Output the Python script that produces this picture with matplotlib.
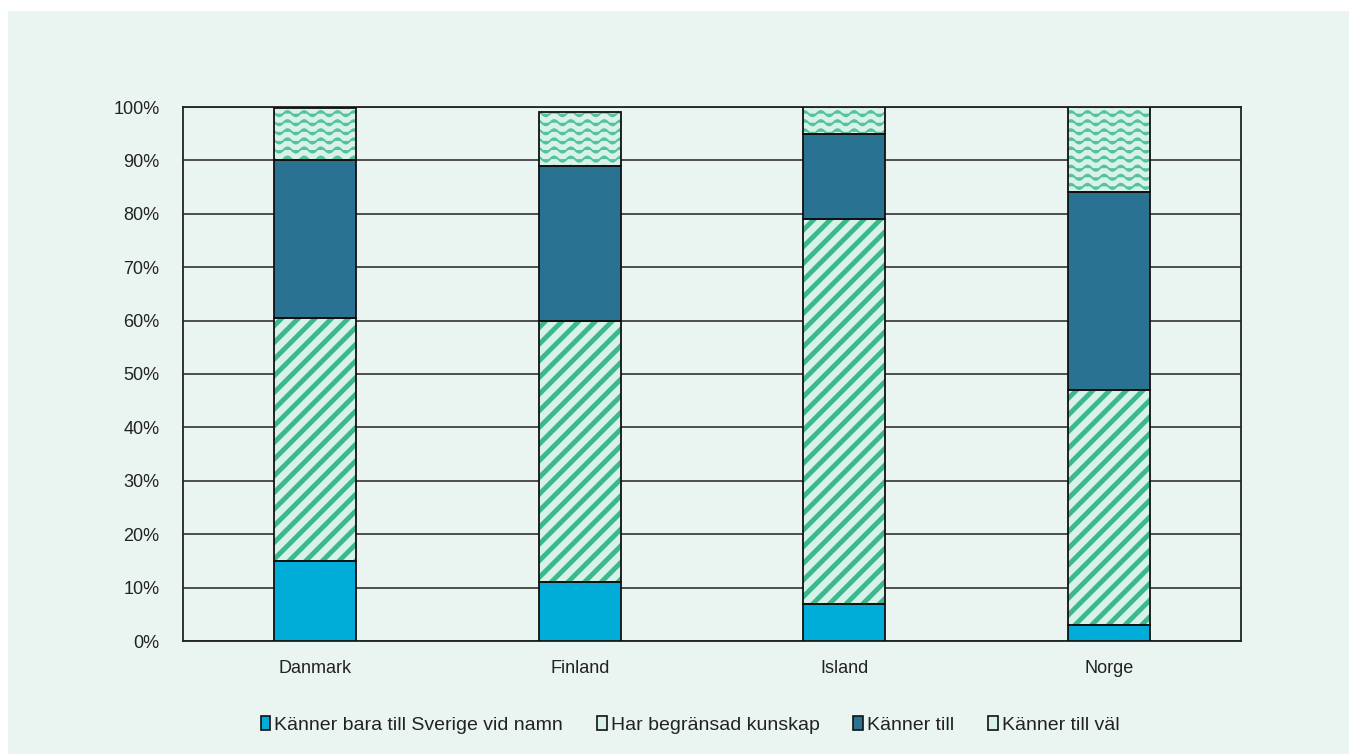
import warnings
import numpy as np
import matplotlib
matplotlib.use("Agg")
import matplotlib.pyplot as plt
import matplotlib.hatch as mhatch
import matplotlib.patches as mpatches
from matplotlib.path import Path

warnings.filterwarnings("ignore")

# ---------------- data ----------------
categories = ["Danmark", "Finland", "Island", "Norge"]
series_names = ["Känner bara till Sverige vid namn", "Har begränsad kunskap",
                "Känner till", "Känner till väl"]
namn = [15, 11, 7, 3]
begransad = [45.5, 49, 72, 44]
kanner_till = [29.5, 29, 16, 37]
kanner_val = [9.8, 10, 5, 16]
y_ticks = [0, 10, 20, 30, 40, 50, 60, 70, 80, 90, 100]
y_tick_labels = [f"{v}%" for v in y_ticks]


# ---------------- custom wavy hatch ----------------
class WaveHatch(mhatch.HatchPatternBase):
    def __init__(self, hatch, density):
        self.num_rows = hatch.count('~') * 11
        self.pts = 145
        self.num_vertices = self.num_rows * self.pts

    def set_vertices_and_codes(self, vertices, codes):
        x = np.linspace(0.0, 1.0, self.pts)
        for i in range(self.num_rows):
            y0 = (i + 0.5) / self.num_rows
            sl = slice(i * self.pts, (i + 1) * self.pts)
            vertices[sl, 0] = x
            vertices[sl, 1] = y0 + 0.026 * np.sin(2 * np.pi * 6 * x)
            codes[sl] = Path.LINETO
            codes[i * self.pts] = Path.MOVETO


mhatch._hatch_types.append(WaveHatch)

plt.rcParams['font.family'] = ['Liberation Sans', 'DejaVu Sans']
plt.rcParams['font.size'] = 13

BG = "#eaf4f1"
C_NAMN = "#00acd8"
C_LIGHT = "#d8f2ea"
C_DIAG = "#3cb88f"
C_WAVE = "#55c29e"
C_DARK = "#2a7292"

fig = plt.figure(figsize=(13.49, 7.54), dpi=100, facecolor="white")
fig.patches.append(mpatches.Rectangle((8 / 1349, 0), 1, 1 - 11 / 754,
                                      transform=fig.transFigure,
                                      facecolor=BG, edgecolor="none", zorder=-10))
ax = fig.add_axes([183 / 1349, 1 - 641 / 754, (1241 - 183) / 1349, (641 - 107) / 754])
ax.set_facecolor(BG)

x = np.arange(len(categories))
width = 0.31
series = [namn, begransad, kanner_till, kanner_val]
fills = [C_NAMN, C_LIGHT, C_DARK, C_LIGHT]
hatches = [None, "//", None, "~"]
hcolors = [C_NAMN, C_DIAG, C_DARK, C_WAVE]
hlw = [1, 3.5, 1, 1.4]

bottom = np.zeros(len(categories))
for vals, fc, h, hc, lw in zip(series, fills, hatches, hcolors, hlw):
    vals = np.array(vals, dtype=float)
    plt.rcParams['hatch.linewidth'] = lw
    bars = ax.bar(x, vals, width, bottom=bottom, color=fc, hatch=h,
                  edgecolor=hc, linewidth=0, zorder=3)
    for b in bars:
        try:
            b.set_hatch_linewidth(lw)
        except AttributeError:
            pass
    ax.bar(x, vals, width, bottom=bottom, fill=False, edgecolor="#111111",
           linewidth=1.3, zorder=4)
    bottom += vals

ax.set_xlim(-0.5, len(categories) - 0.5)
ax.set_ylim(0, 100)
ax.set_yticks(y_ticks)
ax.set_yticklabels(y_tick_labels, color="#222222")
ax.set_xticks(x)
ax.set_xticklabels(categories, color="#222222")
ax.tick_params(axis="both", length=0)
ax.tick_params(axis="y", pad=17)
ax.tick_params(axis="x", pad=14)
ax.grid(axis="y", color="#333333", linewidth=1.2, zorder=1)
ax.set_axisbelow(True)
for s in ax.spines.values():
    s.set_color("#222222")
    s.set_linewidth(1.3)

handles = [mpatches.Patch(facecolor=c, edgecolor="#111111", linewidth=1.2)
           for c in [C_NAMN, C_LIGHT, C_DARK, C_LIGHT]]
fig.legend(handles, series_names, loc="center", bbox_to_anchor=(690 / 1349, 1 - 725 / 754),
           ncol=4, frameon=False, handlelength=0.5, handleheight=0.7,
           handletextpad=0.2, columnspacing=1.75, fontsize=14,
           labelcolor="#222222")

fig.savefig("out.png", dpi=100, facecolor="white")
